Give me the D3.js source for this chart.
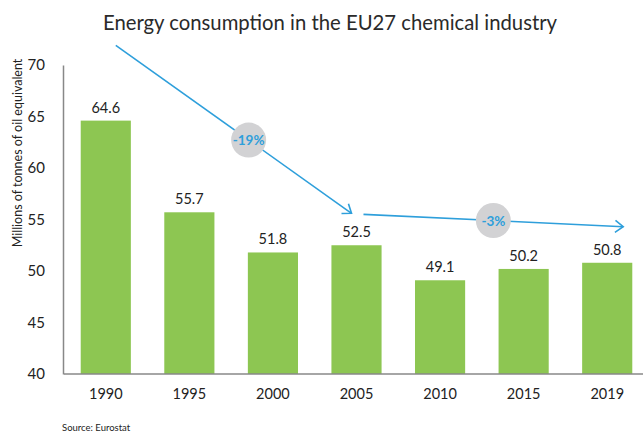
<!DOCTYPE html>
<html>
<head>
<meta charset="utf-8">
<script src="https://cdnjs.cloudflare.com/ajax/libs/d3/7.8.5/d3.min.js"></script>
<style>
  body { margin: 0; background: #fff; }
  text { font-family: Lato, "Open Sans", sans-serif; fill: #222; }
</style>
</head>
<body>
<div id="chart"></div>
<script>
// Energy consumption chart

const WIDTH = 643
const HEIGHT = 434

const years = ["1990", "1995", "2000", "2005", "2010", "2015", "2019"]
const consumption = [64.6, 55.7, 51.8, 52.5, 49.1, 50.2, 50.8]
const yTicks = [40, 45, 50, 55, 60, 65, 70]

// annotation arrows: [year, value] at start and end
const trendFrom = [["1990", 71.9], ["2005", 55.5]]
const trendTo = [["2005", 55.6], ["2019", 54.3]]
const trendLabels = ["-19%", "-3%"]

const MARGIN = { top: 65, bot: 60, left: 64, right: -6 }

const SVG = d3.select("#chart")
  .append("svg")
  .attr("width", WIDTH)
  .attr("height", HEIGHT)

const xScale = d3.scaleBand()
  .domain(years)
  .range([MARGIN.left, WIDTH - MARGIN.right])
  .paddingInner(0.4)
  .paddingOuter(0.2)

const yScale = d3.scaleLinear()
  .domain([40, 70])
  .range([HEIGHT - MARGIN.bot, MARGIN.top])

const cx = y => xScale(y) + xScale.bandwidth() / 2

// Titulo
SVG.append("text")
  .text("Energy consumption in the EU27 chemical industry")
  .attr("x", 330)
  .attr("y", 30)
  .attr("text-anchor", "middle")
  .attr("font-size", 20.3)
  .style("fill", "#2a2a2a")

// Barras
SVG.selectAll("rect.bar")
  .data(consumption)
  .join("rect")
  .attr("class", "bar")
  .attr("x", (d, i) => xScale(years[i]))
  .attr("width", xScale.bandwidth())
  .attr("y", d => yScale(d))
  .attr("height", d => yScale(40) - yScale(d))
  .attr("fill", "#8dc652")

SVG.selectAll("text.bar-label")
  .data(consumption)
  .join("text")
  .attr("class", "bar-label")
  .text(d => d.toFixed(1))
  .attr("x", (d, i) => cx(years[i]))
  .attr("y", d => yScale(d) - 8)
  .attr("text-anchor", "middle")
  .attr("font-size", 14.5)

// Ejes
const xAxis = d3.axisBottom(xScale).tickSize(0).tickPadding(15)
const gx = SVG.append("g")
  .attr("transform", `translate(0, ${yScale(40)})`)
  .call(xAxis)
gx.select(".domain").attr("stroke", "#888").attr("stroke-width", 1.5)
  .attr("d", `M${MARGIN.left},0H${WIDTH}`)
gx.selectAll("text").attr("font-size", 14.5).style("font-family", "Lato").style("fill", "#222")

const yAxis = d3.axisLeft(yScale).tickValues(yTicks).tickSize(0).tickPadding(18)
const gy = SVG.append("g")
  .attr("transform", `translate(${MARGIN.left - 1}, 0)`)
  .call(yAxis)
gy.select(".domain").attr("stroke", "#888").attr("stroke-width", 1.5)
gy.selectAll("text").attr("font-size", 15).style("font-family", "Lato").style("fill", "#222")

SVG.append("text")
  .text("Millions of tonnes of oil equivalent")
  .attr("transform", "translate(22, 153) rotate(-90)")
  .attr("text-anchor", "middle")
  .attr("font-size", 12.5)

SVG.append("text")
  .text("Source: Eurostat")
  .attr("x", 62)
  .attr("y", 431)
  .attr("font-size", 9.5)

// Flechas de tendencia
const BLUE = "#2e9fdb"
const fromOffsets = [10, 7]
const toOffsets = [-5, 16]

trendFrom.forEach((f, i) => {
  const t = trendTo[i]
  const x1 = cx(f[0]) + fromOffsets[i], y1 = yScale(f[1])
  const x2 = cx(t[0]) + toOffsets[i], y2 = yScale(t[1])
  SVG.append("line")
    .attr("x1", x1).attr("y1", y1).attr("x2", x2).attr("y2", y2)
    .attr("stroke", BLUE).attr("stroke-width", 1.6)
  const ang = Math.atan2(y2 - y1, x2 - x1)
  const head = [ang + 2.5, ang - 2.5].map(a => [x2 + 10 * Math.cos(a), y2 + 10 * Math.sin(a)])
  SVG.append("path")
    .attr("d", `M${head[0][0]},${head[0][1]}L${x2},${y2}L${head[1][0]},${head[1][1]}`)
    .attr("fill", "none").attr("stroke", BLUE).attr("stroke-width", 1.6)

  const mx = (x1 + x2) / 2 + (i == 0 ? 15 : 0), my = y1 + (y2 - y1) * ((mx - x1) / (x2 - x1))
  SVG.append("circle")
    .attr("cx", mx).attr("cy", my).attr("r", 17.5)
    .attr("fill", "#d2d2d4")
  SVG.append("text")
    .text(trendLabels[i])
    .attr("x", mx).attr("y", my + 5)
    .attr("text-anchor", "middle")
    .attr("font-size", 13.5)
    .attr("font-weight", "bold")
    .style("fill", BLUE)
})
</script>
</body>
</html>
